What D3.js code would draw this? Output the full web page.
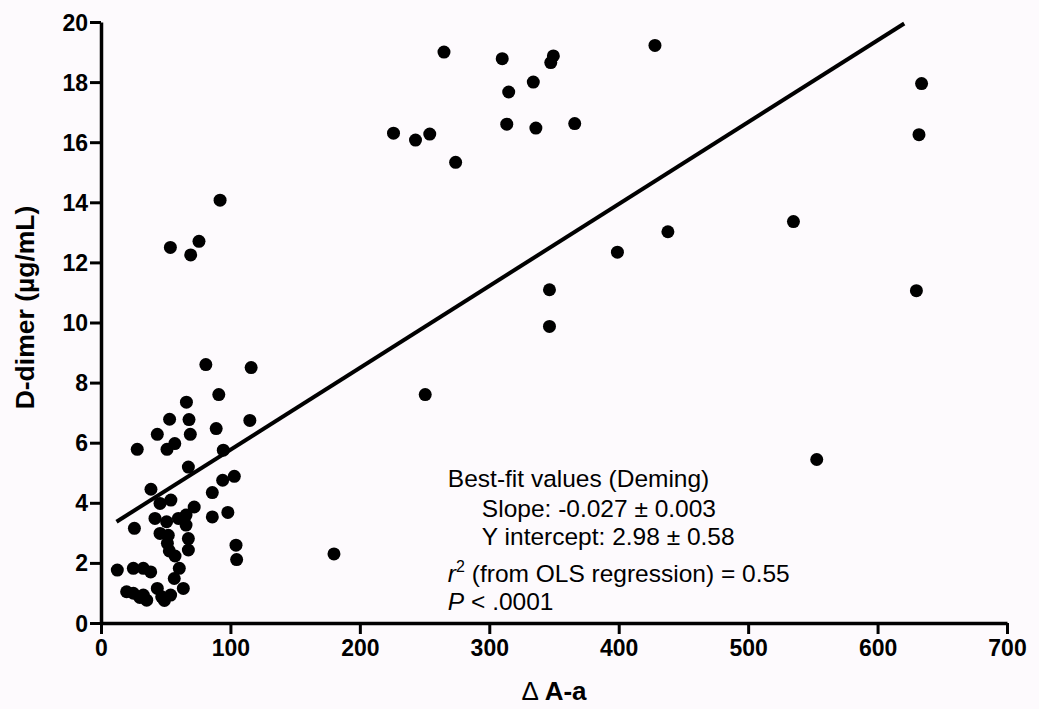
<!DOCTYPE html>
<html>
<head>
<meta charset="utf-8">
<script src="https://cdn.jsdelivr.net/npm/d3@7"></script>
<style>
  body { margin: 0; background: #fdfafd; }
  svg { display: block; font-family: "Liberation Sans", Arial, sans-serif; }
</style>
</head>
<body>
<div id="chart"></div>
<script>
var margin = {top: 22, right: 32, bottom: 86, left: 101},
    width = 1039 - margin.left - margin.right,
    height = 709 - margin.top - margin.bottom;

// Delta A-a values (x) and D-dimer values (y)
var aaGrad = [
  81, 116, 91, 66, 53, 68, 115, 43.5, 69, 89,
  28, 51, 57, 94.5, 67.5, 38.6, 94, 103, 86, 45.6,
  54, 72, 25.8, 41.7, 50.7, 59.8, 65.7, 86, 98, 45.6,
  52, 65.7, 67.5, 51.3, 67.5, 104.3, 104.8, 52.8, 57.2, 60.5,
  12.6, 25, 32.7, 38.4, 56.6, 63.6, 19.8, 25, 32.7, 43.5,
  46.9, 53.8, 35.3, 30, 49,
  53.6, 69.3, 75.7, 92, 226, 243, 254, 265, 274, 310,
  313.5, 315, 334, 336, 347.5, 349.5, 366, 428, 346.5, 346.5,
  399, 438, 535, 553, 630, 632, 634, 250.5, 180
];
var dDimer = [
  8.6, 8.5, 7.6, 7.35, 6.78, 6.77, 6.74, 6.28, 6.28, 6.47,
  5.78, 5.78, 5.97, 5.75, 5.19, 4.45, 4.75, 4.88, 4.34, 3.98,
  4.09, 3.86, 3.15, 3.48, 3.37, 3.48, 3.59, 3.53, 3.68, 2.98,
  2.92, 3.26, 2.81, 2.65, 2.43, 2.59, 2.11, 2.4, 2.23, 1.82,
  1.76, 1.82, 1.82, 1.7, 1.48, 1.15, 1.04, 0.99, 0.93, 1.15,
  0.87, 0.93, 0.76, 0.85, 0.75,
  12.5, 12.25, 12.7, 14.07, 16.3, 16.07, 16.27, 19.0, 15.33, 18.78,
  16.6, 17.67, 18.0, 16.47, 18.65, 18.87, 16.62, 19.22, 11.09, 9.87,
  12.34, 13.02, 13.36, 5.44, 11.06, 16.25, 17.95, 7.6, 2.3
];

// Deming fit line endpoints
var fitX = [12, 620.6];
var fitY = [3.37, 19.95];

var xTicks = [0, 100, 200, 300, 400, 500, 600, 700];
var yTicks = [0, 2, 4, 6, 8, 10, 12, 14, 16, 18, 20];

var statLines = [
  "Best-fit values (Deming)",
  "Slope: -0.027 \u00b1 0.003",
  "Y intercept: 2.98 \u00b1 0.58",
  " (from OLS regression) = 0.55",
  " < .0001"
];

var svg = d3.select("#chart")
  .append("svg")
    .attr("width", width + margin.left + margin.right)
    .attr("height", height + margin.top + margin.bottom)
  .append("g")
    .attr("transform", "translate(" + margin.left + "," + margin.top + ")");

var x = d3.scaleLinear().domain([0, 700]).range([0, width]);
var y = d3.scaleLinear().domain([0, 20]).range([height, 0]);

var xAxis = svg.append("g")
  .attr("transform", "translate(0," + height + ")")
  .call(d3.axisBottom(x).tickValues(xTicks).tickSize(11).tickSizeOuter(0).tickPadding(6));

var yAxis = svg.append("g")
  .call(d3.axisLeft(y).tickValues(yTicks).tickSize(11).tickSizeOuter(0).tickPadding(2));

[xAxis, yAxis].forEach(function(a){
  a.select(".domain").attr("stroke", "#000").attr("stroke-width", 3.5);
  a.selectAll(".tick line").attr("stroke", "#000").attr("stroke-width", 3);
  a.selectAll(".tick text")
    .attr("fill", "#000")
    .style("font-size", "23px")
    .style("font-weight", "bold")
    .style("font-family", "'Liberation Sans', Arial, sans-serif");
});
yAxis.selectAll(".tick text").attr("dy", "0.35em");

// fit line
svg.append("line")
  .attr("x1", x(fitX[0])).attr("y1", y(fitY[0]))
  .attr("x2", x(fitX[1])).attr("y2", y(fitY[1]))
  .attr("stroke", "#000")
  .attr("stroke-width", 4);

// points
svg.selectAll(".pt")
  .data(aaGrad)
  .enter().append("circle")
    .attr("class", "pt")
    .attr("cx", function(d) { return x(d); })
    .attr("cy", function(d, i) { return y(dDimer[i]); })
    .attr("r", 6.5)
    .attr("fill", "#000");

// axis titles
svg.append("text")
  .attr("x", width / 2)
  .attr("y", height + 77)
  .attr("text-anchor", "middle")
  .style("font-size", "26px")
  .html('<tspan font-weight="normal">\u0394 </tspan><tspan font-weight="bold">A-a</tspan>');

svg.append("text")
  .attr("transform", "translate(-67," + (height / 2 - 15) + ") rotate(-90)")
  .attr("text-anchor", "middle")
  .style("font-size", "26.5px")
  .style("font-weight", "bold")
  .text("D-dimer (\u00b5g/mL)");

// stats annotation
var ann = svg.append("g")
  .attr("transform", "translate(" + x(268) + ",0)")
  .style("font-size", "24.5px");

ann.append("text").attr("x", 0).attr("y", y(4.52)).text(statLines[0]);
ann.append("text").attr("x", 34).attr("y", y(3.52)).text(statLines[1]);
ann.append("text").attr("x", 34).attr("y", y(2.59)).text(statLines[2]);
var r2 = ann.append("text").attr("x", 0).attr("y", y(1.36));
r2.append("tspan").style("font-style", "italic").text("r");
r2.append("tspan").attr("dy", -10).style("font-size", "16px").text("2");
r2.append("tspan").attr("dy", 10).text(statLines[3]);
var pv = ann.append("text").attr("x", 0).attr("y", y(0.43));
pv.append("tspan").style("font-style", "italic").text("P");
pv.append("tspan").text(statLines[4]);
</script>
</body>
</html>
